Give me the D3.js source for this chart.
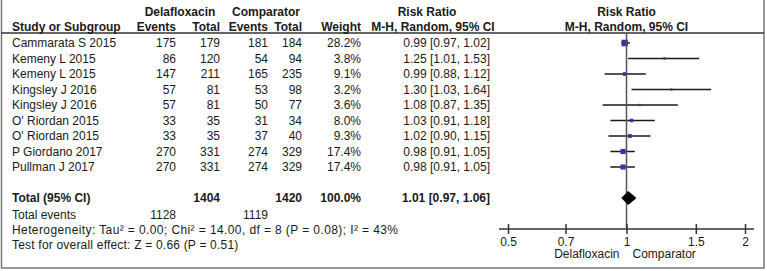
<!DOCTYPE html>
<html>
<head>
<meta charset="utf-8">
<script src="https://cdn.jsdelivr.net/npm/d3@7"></script>
<style>
  body { margin: 0; background: #fff; }
  svg text { font-family: 'Liberation Sans', Arial, sans-serif; font-size: 12px; fill: #1a1a1a; }
</style>
</head>
<body>
<svg id="chart"></svg>
<script>
// Study data
const studies = ['Cammarata S 2015', 'Kemeny L 2015', 'Kemeny L 2015', 'Kingsley J 2016', 'Kingsley J 2016',
  "O' Riordan 2015", "O' Riordan 2015", 'P Giordano 2017', 'Pullman J 2017'];
const delEvents = [175, 86, 147, 57, 57, 33, 33, 270, 270];
const delTotal = [179, 120, 211, 81, 81, 35, 35, 331, 331];
const compEvents = [181, 54, 165, 53, 50, 31, 37, 274, 274];
const compTotal = [184, 94, 235, 98, 77, 34, 40, 329, 329];
const weights = [28.2, 3.8, 9.1, 3.2, 3.6, 8.0, 9.3, 17.4, 17.4];
const rr = [0.99, 1.25, 0.99, 1.30, 1.08, 1.03, 1.02, 0.98, 0.98];
const rrLow = [0.97, 1.01, 0.88, 1.03, 0.87, 0.91, 0.90, 0.91, 0.91];
const rrHigh = [1.02, 1.53, 1.12, 1.64, 1.35, 1.18, 1.15, 1.05, 1.05];

// Pooled result
const pooled = { rr: 1.01, low: 0.97, high: 1.06, delTotal: 1404, compTotal: 1420, weight: '100.0%' };
const totalEvents = [1128, 1119];
const heterogeneity = 'Heterogeneity: Tau² = 0.00; Chi² = 14.00, df = 8 (P = 0.08); I² = 43%';
const overallEffect = 'Test for overall effect: Z = 0.66 (P = 0.51)';

// Axis ticks
const tickValues = [0.5, 0.7, 1, 1.5, 2];
const favourLabels = ['Delafloxacin', 'Comparator'];

class ForestPlot {

  constructor(_config) {
    this.config = {
      parentElement: _config.parentElement,
      containerWidth: _config.containerWidth || 767,
      containerHeight: _config.containerHeight || 271
    };
  }

  initVis() {
    let vis = this;

    vis.svg = d3.select(vis.config.parentElement)
        .attr('width', vis.config.containerWidth)
        .attr('height', vis.config.containerHeight);

    // Column anchors (right aligned numbers)
    vis.cols = { study: 12, delEv: 176, delTot: 220, compEv: 268, compTot: 302, weight: 361, rrText: 490 };

    // Scales
    vis.x = d3.scaleLog().domain([0.5, 2]).range([508, 745]);
    vis.y = d3.scaleLinear().domain([0, studies.length - 1]).range([43, 167]);
    vis.size = d3.scaleSqrt().domain([0, d3.max(weights)]).range([0, 6.5]);

    vis.totalY = 198;
    vis.axisY = 229;

    vis.render();
  }

  render() {
    let vis = this;
    let x = vis.x, y = vis.y, c = vis.cols;

    // Frame: left, bottom, right
    vis.svg.append('path')
        .attr('d', 'M1.5,0 V268 H764 V0')
        .attr('fill', 'none')
        .attr('stroke', '#777')
        .attr('stroke-width', 1.5);

    // Header line
    vis.svg.append('line')
        .attr('x1', 1).attr('x2', 764)
        .attr('y1', 33).attr('y2', 33)
        .attr('stroke', '#333')
        .attr('stroke-width', 1.5);

    // Headers
    let header = vis.svg.append('g');
    let headerText = (tx, ty, txt, anchor) => header.append('text')
        .attr('x', tx).attr('y', ty)
        .attr('text-anchor', anchor)
        .style('font-weight', 'bold')
        .text(txt);

    headerText(180, 16, 'Delafloxacin', 'middle');
    headerText(266, 16, 'Comparator', 'middle');
    headerText(427, 16, 'Risk Ratio', 'middle');
    headerText(x(1), 16, 'Risk Ratio', 'middle');
    headerText(c.study, 31, 'Study or Subgroup', 'start');
    headerText(c.delEv, 31, 'Events', 'end');
    headerText(c.delTot, 31, 'Total', 'end');
    headerText(c.compEv, 31, 'Events', 'end');
    headerText(c.compTot, 31, 'Total', 'end');
    headerText(c.weight, 31, 'Weight', 'end');
    headerText(433, 31, 'M-H, Random, 95% CI', 'middle');
    headerText(x(1), 31, 'M-H, Random, 95% CI', 'middle');

    // Study rows
    let rows = vis.svg.selectAll('.row')
        .data(studies.map((s, i) => i))
      .join('g')
        .attr('class', 'row')
        .attr('transform', i => `translate(0,${y(i)})`);

    let cell = (key, accessor, anchor) => rows.append('text')
        .attr('x', c[key])
        .attr('dy', '0.35em')
        .attr('text-anchor', anchor)
        .text(accessor);

    cell('study', i => studies[i], 'start');
    cell('delEv', i => delEvents[i], 'end');
    cell('delTot', i => delTotal[i], 'end');
    cell('compEv', i => compEvents[i], 'end');
    cell('compTot', i => compTotal[i], 'end');
    cell('weight', i => weights[i].toFixed(1) + '%', 'end');
    cell('rrText', i => `${rr[i].toFixed(2)} [${rrLow[i].toFixed(2)}, ${rrHigh[i].toFixed(2)}]`, 'end');

    // Null line
    vis.svg.append('line')
        .attr('x1', x(1)).attr('x2', x(1))
        .attr('y1', 33).attr('y2', vis.axisY)
        .attr('stroke', '#555')
        .attr('stroke-width', 1.5);

    // CI whiskers
    rows.append('line')
        .attr('x1', i => x(rrLow[i]))
        .attr('x2', i => x(rrHigh[i]))
        .attr('stroke', '#1a1a1a')
        .attr('stroke-width', 1.5);

    // Weighted squares
    rows.append('rect')
        .attr('x', i => x(rr[i]) - vis.size(weights[i]) / 2)
        .attr('y', i => -vis.size(weights[i]) / 2)
        .attr('width', i => vis.size(weights[i]))
        .attr('height', i => vis.size(weights[i]))
        .attr('fill', '#3434a8');

    // Total row
    let total = vis.svg.append('g')
        .attr('transform', `translate(0,${vis.totalY})`);
    let totalText = (tx, txt, anchor) => total.append('text')
        .attr('x', tx)
        .attr('dy', '0.35em')
        .attr('text-anchor', anchor)
        .style('font-weight', 'bold')
        .text(txt);

    totalText(c.study, 'Total (95% CI)', 'start');
    totalText(c.delTot, pooled.delTotal, 'end');
    totalText(c.compTot, pooled.compTotal, 'end');
    totalText(c.weight, pooled.weight, 'end');
    totalText(c.rrText, `${pooled.rr.toFixed(2)} [${pooled.low.toFixed(2)}, ${pooled.high.toFixed(2)}]`, 'end');

    // Pooled diamond
    total.append('path')
        .attr('d', `M${x(pooled.low)},0 L${x(pooled.rr)},-7 L${x(pooled.high)},0 L${x(pooled.rr)},7 Z`)
        .attr('fill', '#000');

    // Footer lines
    let foot = [
      { y: 215, spacing: 0, items: [[c.study, 'Total events', 'start'], [c.delEv, totalEvents[0], 'end'], [c.compEv, totalEvents[1], 'end']] },
      { y: 230, spacing: 0.4, items: [[c.study, heterogeneity, 'start']] },
      { y: 245, spacing: 0.2, items: [[c.study, overallEffect, 'start']] }
    ];
    foot.forEach(f => {
      f.items.forEach(it => {
        vis.svg.append('text')
            .attr('x', it[0])
            .attr('y', f.y)
            .attr('dy', '0.35em')
            .attr('text-anchor', it[2])
            .style('letter-spacing', f.spacing + 'px')
            .text(it[1]);
      });
    });

    // Axis
    let axis = d3.axisBottom(x)
        .tickValues(tickValues)
        .tickFormat(d => d)
        .tickSize(5);

    let axisG = vis.svg.append('g')
        .attr('transform', `translate(0,${vis.axisY})`)
        .call(axis);

    axisG.select('.domain').remove();
    axisG.selectAll('.tick line')
        .attr('y1', -5)
        .attr('y2', 5)
        .attr('stroke', '#333')
        .attr('stroke-width', 1.5);
    axisG.selectAll('.tick text')
        .attr('font-size', null)
        .attr('font-family', null);
    axisG.append('line')
        .attr('x1', x(0.5) - 9)
        .attr('x2', x(2) + 9)
        .attr('stroke', '#333')
        .attr('stroke-width', 1.5);

    // Favours labels
    vis.svg.append('text')
        .attr('x', x(1) - 7)
        .attr('y', 258)
        .attr('text-anchor', 'end')
        .text(favourLabels[0]);
    vis.svg.append('text')
        .attr('x', x(1) + 6)
        .attr('y', 258)
        .attr('text-anchor', 'start')
        .text(favourLabels[1]);
  }
}

const plot = new ForestPlot({ parentElement: '#chart' });
plot.initVis();
</script>
</body>
</html>
